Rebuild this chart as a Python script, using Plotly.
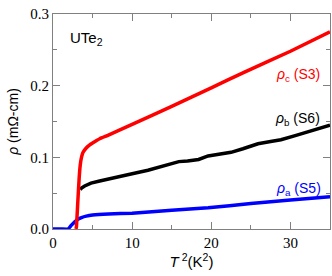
import plotly.graph_objects as go

# Data
red_x = [2.9, 2.96, 3.05, 3.17, 3.3, 3.45, 3.6, 3.8, 4.2, 4.6, 5.0, 5.9, 7.0, 10, 15, 20, 24.2, 30, 35]
red_y = [0.0, 0.003, 0.02, 0.045, 0.07, 0.090, 0.100, 0.107, 0.113, 0.117, 0.120, 0.126, 0.131, 0.146, 0.171, 0.197, 0.219, 0.248, 0.275]

black_x = [3.45, 3.6, 4.0, 4.8, 5.9, 7.0, 8.5, 10, 12, 14.2, 15.9, 17, 18.4, 19.6, 21, 22.5, 24, 25.9, 27.5, 28.8, 30.5, 32.5, 35]
black_y = [0.055, 0.057, 0.060, 0.064, 0.067, 0.070, 0.073, 0.077, 0.082, 0.089, 0.094, 0.095, 0.097, 0.102, 0.104, 0.107, 0.112, 0.119, 0.122, 0.1245, 0.130, 0.137, 0.145]

blue_x = [0, 1.0, 1.9, 2.3, 2.75, 3.2, 3.6, 4.2, 5.0, 7.0, 10, 15, 19.6, 25, 30, 35]
blue_y = [0, 0, 0, 0.005, 0.010, 0.014, 0.016, 0.018, 0.0195, 0.021, 0.022, 0.026, 0.0297, 0.0355, 0.0405, 0.045]

x_ticks = [0, 10, 20, 30]
y_ticks = [0.0, 0.1, 0.2, 0.3]

fig = go.Figure()
fig.add_trace(go.Scatter(x=blue_x, y=blue_y, mode="lines", line=dict(color="#0000ff", width=3.5, shape="spline", smoothing=0.4), showlegend=False))
fig.add_trace(go.Scatter(x=black_x, y=black_y, mode="lines", line=dict(color="#000000", width=3.5), showlegend=False))
fig.add_trace(go.Scatter(x=red_x, y=red_y, mode="lines", line=dict(color="#ff0000", width=3.5, shape="spline", smoothing=0.4), showlegend=False))

sans = "Liberation Sans"
serif = "Liberation Serif"

annos = [
    dict(x=1.9, y=0.266, text="UTe<sub>2</sub>", color="#000000", xanchor="left", size=15),
    dict(x=34.0, y=0.215, text="<i>ρ</i><sub>c</sub> (S3)", color="#ff0000", xanchor="right", size=14),
    dict(x=34.0, y=0.153, text="<i>ρ</i><sub>b</sub> (S6)", color="#000000", xanchor="right", size=14),
    dict(x=34.1, y=0.056, text="<i>ρ</i><sub>a</sub> (S5)", color="#0000ff", xanchor="right", size=14),
]
for a in annos:
    fig.add_annotation(x=a["x"], y=a["y"], text=a["text"], showarrow=False,
                       xanchor=a["xanchor"], yanchor="middle",
                       font=dict(family=sans, size=a["size"], color=a["color"]))

axis_common = dict(showline=True, linecolor="#808080", linewidth=1, mirror="ticks",
                   ticks="inside", ticklen=7, tickcolor="#808080", tickwidth=1,
                   showgrid=False, zeroline=False,
                   tickfont=dict(family=serif, size=15, color="#000000"))

fig.update_xaxes(range=[0, 35], tickvals=x_ticks,
                 minor=dict(ticks="inside", ticklen=4, tickcolor="#808080", dtick=5, tick0=0, showgrid=False),
                 title=dict(text="<i>T</i><sup> 2</sup>(K<sup>2</sup>)", font=dict(family=sans, size=15, color="#000000"), standoff=4),
                 **axis_common)
fig.update_yaxes(range=[0, 0.3], tickvals=y_ticks, tickformat=".1f",
                 minor=dict(ticks="inside", ticklen=4, tickcolor="#808080", dtick=0.05, tick0=0, showgrid=False),
                 title=dict(text="<i>ρ</i> (mΩ-cm)", font=dict(family=sans, size=14, color="#000000"), standoff=8),
                 **axis_common)

fig.update_layout(width=332, height=276, margin=dict(l=53, r=2, t=14, b=47),
                  plot_bgcolor="white", paper_bgcolor="white")

fig.write_html("out.html", config={"displayModeBar": False},
               post_script="document.body.style.margin='0';document.body.style.overflow='hidden';")
